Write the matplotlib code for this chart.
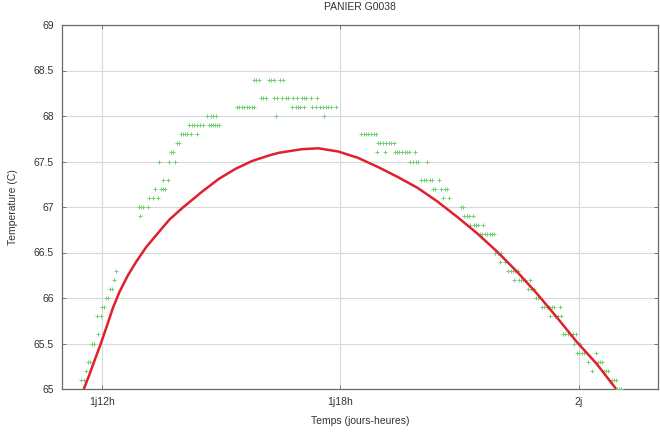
import numpy as np
import matplotlib
matplotlib.use("Agg")
import matplotlib.pyplot as plt

# temps en heures depuis le debut (1j12h = 36 h, 2j = 48 h)
tick_heures = [36, 42, 48]
tick_labels = ["1j12h", "1j18h", "2j"]

# mesures : paliers de temperature (0.1 C) et instants releves sur chaque palier
paliers = [65.0, 65.1, 65.2, 65.3, 65.4, 65.5, 65.6, 65.8, 65.9, 66.0, 66.1,
           66.2, 66.3, 66.4, 66.5, 66.7, 66.8, 66.9, 67.0, 67.1, 67.2, 67.3,
           67.5, 67.6, 67.7, 67.8, 67.9, 68.0, 68.1, 68.2, 68.4]
heures_par_palier = [
    [48.97, 49.02, 49.07],
    [35.49, 35.55, 48.83, 48.89, 48.95],
    [35.60, 48.33, 48.63, 48.68, 48.73],
    [35.65, 35.70, 48.23, 48.50, 48.55, 48.60],
    [47.95, 48.01, 48.08, 48.13, 48.43],
    [35.75, 35.80, 47.88, 48.03],
    [35.90, 47.60, 47.66, 47.73, 47.79, 47.85, 47.93],
    [35.87, 35.97, 47.28, 47.40, 47.48, 47.55],
    [36.01, 36.06, 47.08, 47.14, 47.20, 47.26, 47.33, 47.38, 47.53],
    [36.10, 36.15, 46.93, 46.98],
    [36.20, 36.25, 46.73, 46.80, 46.88],
    [36.30, 46.38, 46.50, 46.55, 46.60, 46.65, 46.78],
    [36.35, 46.23, 46.29, 46.35, 46.41, 46.48],
    [46.03, 46.15],
    [45.90, 45.98, 46.05],
    [45.53, 45.58, 45.64, 45.70, 45.76, 45.83, 45.88],
    [45.28, 45.38, 45.43, 45.48, 45.60],
    [36.97, 45.13, 45.19, 45.25, 45.34],
    [36.94, 36.99, 37.04, 37.16, 45.03, 45.08],
    [37.20, 37.30, 37.41, 44.58, 44.75],
    [37.35, 37.48, 37.53, 37.60, 44.33, 44.39, 44.53, 44.64, 44.70],
    [37.55, 37.66, 44.04, 44.10, 44.16, 44.25, 44.31, 44.49],
    [37.45, 37.70, 37.85, 43.77, 43.83, 43.90, 43.96, 44.18],
    [37.74, 37.80, 42.93, 43.14, 43.37, 43.43, 43.49, 43.55, 43.62, 43.68,
     43.74, 43.88],
    [37.89, 37.95, 42.95, 43.01, 43.08, 43.16, 43.23, 43.29, 43.35],
    [38.00, 38.05, 38.10, 38.15, 38.25, 38.40, 42.52, 42.59, 42.65, 42.71,
     42.78, 42.84, 42.90],
    [38.19, 38.26, 38.31, 38.41, 38.48, 38.54, 38.69, 38.74, 38.79, 38.84,
     38.89, 38.94],
    [38.65, 38.75, 38.81, 38.88, 40.38, 41.60],
    [39.40, 39.46, 39.53, 39.59, 39.65, 39.71, 39.78, 39.83, 40.78, 40.88,
     40.93, 40.98, 41.08, 41.28, 41.39, 41.49, 41.58, 41.64, 41.70, 41.76,
     41.90],
    [40.00, 40.06, 40.13, 40.34, 40.41, 40.53, 40.63, 40.68, 40.81, 40.92,
     41.05, 41.10, 41.15, 41.26, 41.43],
    [39.83, 39.89, 39.95, 40.20, 40.26, 40.33, 40.48, 40.55],
]

# courbe du modele
courbe_h = [35.55, 35.70, 35.825, 35.97, 36.12, 36.28, 36.45, 36.66, 36.87,
            37.12, 37.37, 37.70, 38.03, 38.53, 38.95, 39.37, 39.78, 40.20,
            40.45, 41.03, 41.45, 41.95, 42.45, 42.95, 43.45, 43.95, 44.45,
            44.95, 45.45, 45.95, 46.45, 46.95, 47.45, 47.95, 48.45, 48.93]
courbe_t = [65.00, 65.17, 65.32, 65.49, 65.68, 65.89, 66.07, 66.25, 66.40,
            66.56, 66.69, 66.86, 66.99, 67.17, 67.31, 67.42, 67.505, 67.565,
            67.595, 67.635, 67.645, 67.61, 67.54, 67.44, 67.33, 67.21, 67.06,
            66.89, 66.71, 66.51, 66.29, 66.05, 65.79, 65.52, 65.28, 65.01]

mesure_h = np.concatenate([np.array(h) for h in heures_par_palier])
mesure_t = np.concatenate([np.full(len(h), p) for p, h in zip(paliers, heures_par_palier)])

plt.rcParams['font.family'] = ['Liberation Sans', 'DejaVu Sans']

fig = plt.figure(figsize=(6.6, 4.32), dpi=100)
ax = fig.add_axes([62 / 660, 43 / 432, 596 / 660, 364 / 432])

ax.plot(mesure_h, mesure_t, linestyle='none', marker='+', markersize=2.4,
        markeredgewidth=0.7, color='#72d072', zorder=3)
ax.plot(courbe_h, courbe_t, color='#e0202c', linewidth=1.8, zorder=4,
        solid_joinstyle='round', solid_capstyle='round')

ax.set_xlim(35, 50)
ax.set_ylim(65, 69)
ax.set_xticks(tick_heures)
ax.set_xticklabels(tick_labels)
ax.set_yticks(np.arange(65, 69.01, 0.5))
ax.set_yticklabels(['65', '65.5', '66', '66.5', '67', '67.5', '68', '68.5', '69'])

ax.grid(True, color='#d8d8d8', linewidth=0.8)
ax.set_axisbelow(True)
for s in ax.spines.values():
    s.set_color('#6a6a6a')
    s.set_linewidth(0.9)
ax.tick_params(direction='in', length=3, width=0.6, color='#6a6a6a',
               labelsize=7.5, labelcolor='#333333', top=True, right=True)
ax.tick_params(axis='x', pad=6)
ax.tick_params(axis='y', pad=6)

ax.set_title('PANIER G0038', fontsize=7.5, color='#333333', pad=11)
ax.set_xlabel('Temps (jours-heures)', fontsize=7.5, color='#333333', labelpad=6)
ax.set_ylabel('Temperature (C)', fontsize=7.5, color='#333333', labelpad=11)

fig.savefig('out.png', dpi=100)
